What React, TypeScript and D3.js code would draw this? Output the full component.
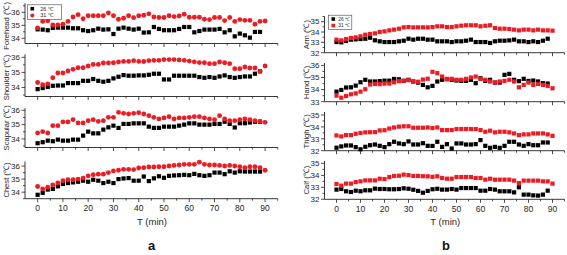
import React from "react";
import * as d3 from "d3";

// ---------- data ----------
const minutes = [0, 2, 4, 6, 8, 10, 12, 14, 16, 18, 20, 22, 24, 26, 28, 30, 32, 34, 36, 38, 40, 42, 44, 46, 48, 50, 52, 54, 56, 58, 60, 62, 64, 66, 68, 70, 72, 74, 76, 78, 80, 82, 84, 86, 88, 90];
const xTickValues = [0, 5, 10, 15, 20, 25, 30, 35, 40, 45, 50, 55, 60, 65, 70, 75, 80, 85, 90, 95];
const xLabelValues = [0, 10, 20, 30, 40, 50, 60, 70, 80, 90];
const legendLabels = ["26 ℃", "31 ℃"];
const xTitle = "T (min)";
const panelLetters = ["a", "b"];

const foreheadBlack = [34.69, 34.67, 34.62, 34.8, 34.82, 34.82, 34.82, 34.77, 34.77, 34.62, 34.56, 34.62, 34.74, 34.67, 34.69, 34.33, 34.74, 34.82, 34.74, 34.67, 34.74, 34.44, 34.46, 34.87, 34.72, 34.62, 34.62, 34.62, 34.72, 34.87, 34.87, 34.46, 34.56, 34.67, 34.67, 34.67, 34.72, 34.46, 34.62, 34.15, 34.36, 34.23, 34.05, 34.49, 34.49];
const foreheadRed = [34.8, 35.3, 35.35, 35.03, 35.03, 35.08, 35.3, 35.64, 35.82, 35.5, 35.74, 35.74, 35.74, 35.74, 35.95, 35.74, 35.46, 35.54, 35.74, 35.59, 35.74, 35.77, 35.88, 35.64, 35.6, 35.6, 35.74, 35.67, 35.72, 35.85, 35.62, 35.62, 35.62, 35.46, 35.44, 35.6, 35.6, 35.36, 35.6, 35.3, 35.44, 35.38, 35.38, 35.08, 35.3, 35.33];

const shoulderBlack = [33.89, 33.96, 34.04, 34.11, 34.13, 34.13, 34.29, 34.29, 34.29, 34.44, 34.44, 34.56, 34.44, 34.38, 34.44, 34.6, 34.71, 34.82, 34.78, 34.78, 34.8, 34.8, 34.84, 34.91, 34.91, 34.53, 34.53, 34.78, 34.78, 34.78, 34.78, 34.78, 34.69, 34.64, 34.69, 34.64, 34.73, 34.8, 34.69, 34.64, 34.69, 34.73, 34.73, 34.91, 35.07];
const shoulderRed = [34.33, 34.18, 34.24, 34.64, 34.96, 34.96, 35.09, 35.2, 35.31, 35.31, 35.42, 35.53, 35.53, 35.62, 35.62, 35.64, 35.69, 35.73, 35.73, 35.78, 35.73, 35.72, 35.78, 35.8, 35.8, 35.85, 35.85, 35.85, 35.83, 35.8, 35.75, 35.7, 35.65, 35.64, 35.58, 35.58, 35.69, 35.64, 35.58, 35.24, 35.24, 35.36, 35.29, 35.29, 35.07, 35.42];

const scapularBlack = [33.7, 33.77, 33.88, 33.84, 33.95, 33.88, 33.88, 33.95, 33.95, 34.23, 34.51, 34.39, 34.39, 34.65, 34.81, 34.93, 34.77, 35.05, 35.05, 35.09, 35.09, 35.09, 34.86, 34.77, 34.77, 34.86, 34.86, 34.86, 34.93, 35.0, 35.09, 35.09, 35.0, 35.0, 35.0, 35.05, 35.05, 35.2, 35.05, 34.8, 35.1, 35.1, 35.15, 35.2, 35.2];
const scapularRed = [34.42, 34.51, 34.42, 34.93, 34.93, 35.19, 35.19, 35.35, 35.12, 35.12, 35.28, 35.35, 35.23, 35.28, 35.51, 35.51, 35.86, 35.79, 35.74, 35.79, 35.84, 35.74, 35.63, 35.51, 35.4, 35.47, 35.56, 35.4, 35.47, 35.47, 35.51, 35.56, 35.56, 35.47, 35.4, 35.35, 35.63, 35.4, 35.28, 35.28, 35.35, 35.4, 35.35, 35.28, 35.23, 35.16];

const chestBlack = [33.8, 33.95, 34.2, 34.25, 34.45, 34.63, 34.7, 34.75, 34.8, 34.88, 34.8, 34.95, 34.88, 34.7, 34.8, 34.7, 35.0, 35.05, 35.08, 34.88, 34.88, 35.2, 34.85, 35.06, 35.22, 35.1, 35.25, 35.28, 35.3, 35.33, 35.3, 35.4, 35.3, 35.25, 35.3, 35.5, 35.5, 35.38, 35.6, 35.5, 35.6, 35.58, 35.58, 35.58, 35.58];
const chestRed = [34.43, 34.25, 34.38, 34.55, 34.7, 34.88, 34.95, 34.95, 35.0, 35.08, 35.25, 35.33, 35.38, 35.38, 35.5, 35.63, 35.68, 35.75, 35.75, 35.73, 35.85, 35.88, 35.93, 35.93, 35.95, 35.95, 36.0, 36.05, 36.08, 36.13, 36.13, 36.13, 36.3, 36.13, 36.08, 36.08, 36.05, 36.0, 36.05, 36.0, 35.95, 35.88, 35.95, 35.95, 35.88, 35.68];

const armBlack = [33.03, 33.0, 33.13, 33.26, 33.29, 33.32, 33.35, 33.45, 33.2, 33.1, 33.03, 33.03, 33.03, 33.1, 33.16, 33.35, 33.26, 33.35, 33.35, 33.26, 33.26, 33.1, 33.1, 33.1, 33.03, 33.1, 33.1, 33.16, 33.26, 33.03, 33.03, 33.03, 32.94, 33.1, 33.16, 33.16, 33.19, 33.26, 33.1, 33.1, 33.03, 33.1, 33.03, 33.16, 33.35];
const armRed = [33.26, 33.19, 33.32, 33.42, 33.48, 33.58, 33.74, 33.81, 33.87, 34.0, 34.06, 34.16, 34.23, 34.32, 34.45, 34.48, 34.45, 34.45, 34.45, 34.45, 34.48, 34.55, 34.55, 34.48, 34.48, 34.55, 34.61, 34.65, 34.65, 34.65, 34.55, 34.61, 34.65, 34.39, 34.32, 34.32, 34.29, 34.23, 34.16, 34.23, 34.23, 34.16, 34.23, 34.16, 34.16, 34.13];

const handBlack = [33.83, 33.97, 34.17, 34.19, 34.33, 34.61, 34.81, 34.67, 34.67, 34.7, 34.74, 34.74, 34.88, 34.85, 34.72, 34.81, 34.67, 34.58, 34.39, 34.19, 34.31, 34.67, 34.81, 34.86, 34.81, 34.75, 34.72, 34.72, 34.81, 34.53, 34.94, 34.72, 34.81, 34.58, 34.58, 35.22, 35.3, 34.81, 34.7, 34.89, 34.72, 34.75, 34.67, 34.53, 34.5];
const handRed = [33.5, 33.33, 33.47, 33.61, 33.69, 33.83, 34.03, 34.42, 34.47, 34.45, 34.5, 34.5, 34.6, 34.7, 34.73, 34.78, 34.67, 34.65, 34.83, 34.9, 35.47, 35.36, 35.08, 34.89, 34.89, 34.81, 34.81, 34.89, 35.0, 35.08, 34.89, 34.81, 34.67, 34.58, 34.67, 34.72, 34.81, 34.67, 34.19, 34.39, 34.58, 34.39, 34.47, 34.39, 34.31, 34.11];

const thighBlack = [32.25, 32.36, 32.44, 32.44, 32.3, 32.12, 32.33, 32.46, 32.52, 32.41, 32.3, 32.55, 32.75, 32.61, 32.55, 32.78, 32.52, 32.52, 32.63, 32.41, 32.4, 32.75, 32.32, 32.55, 32.18, 32.61, 32.61, 32.52, 32.52, 32.55, 32.89, 32.41, 32.24, 32.32, 32.24, 32.41, 32.75, 32.75, 32.52, 32.41, 32.55, 32.46, 32.46, 32.69, 32.69];
const thighRed = [33.28, 33.2, 33.31, 33.31, 33.42, 33.49, 33.54, 33.55, 33.56, 33.7, 33.72, 33.86, 33.95, 34.02, 34.05, 34.05, 33.93, 33.93, 33.93, 33.95, 33.9, 33.95, 33.73, 33.73, 33.73, 33.82, 33.82, 33.82, 33.82, 33.82, 33.73, 33.59, 33.68, 33.54, 33.59, 33.59, 33.54, 33.45, 33.31, 33.37, 33.37, 33.45, 33.45, 33.45, 33.37, 33.25];

const calfBlack = [32.81, 32.86, 32.67, 32.61, 32.72, 32.67, 32.75, 32.75, 32.89, 32.86, 32.86, 32.84, 32.84, 32.86, 32.92, 32.88, 32.8, 32.7, 32.55, 32.7, 32.84, 32.88, 32.81, 32.81, 32.86, 32.81, 32.94, 32.94, 32.94, 32.94, 32.72, 32.72, 32.86, 32.81, 32.67, 32.67, 32.67, 32.58, 33.0, 32.39, 32.39, 32.33, 32.31, 32.39, 32.72];
const calfRed = [33.28, 33.14, 33.31, 33.31, 33.44, 33.5, 33.58, 33.58, 33.58, 33.72, 33.69, 33.86, 33.95, 33.97, 34.06, 34.02, 33.95, 33.95, 33.93, 33.92, 33.88, 33.92, 33.78, 33.72, 33.72, 33.86, 33.86, 33.86, 33.86, 33.78, 33.78, 33.64, 33.72, 33.64, 33.64, 33.64, 33.64, 33.56, 33.36, 33.56, 33.56, 33.56, 33.56, 33.5, 33.5, 33.31];

// ---------- layout ----------
const W = 567;
const H = 255;
const RED = "#ec1c24";
const BLACK = "#000000";
const AXIS = "#222222";
const TEXT = "#262626";
const FONT = "'Liberation Sans', Arial, Helvetica, sans-serif";

type Sub = {
  label: string;
  black: number[];
  red: number[];
  domain: [number, number];
  top: number;
  bottom: number;
  labelShift?: number;
};

const panelA: Sub[] = [
  { label: "Forehead (℃)", black: foreheadBlack, red: foreheadRed, domain: [33.6, 36.7], top: 3.2, bottom: 43.5, labelShift: 2.5 },
  { label: "Shoulder (℃)", black: shoulderBlack, red: shoulderRed, domain: [33.4, 36.2], top: 54.3, bottom: 96.5, labelShift: 2 },
  { label: "Scapular (℃)", black: scapularBlack, red: scapularRed, domain: [33.4, 36.15], top: 108.2, bottom: 147.5 },
  { label: "Chest (℃)", black: chestBlack, red: chestRed, domain: [33.5, 36.35], top: 161.5, bottom: 198.7 },
];

const panelB: Sub[] = [
  { label: "Arm (℃)", black: armBlack, red: armRed, domain: [32, 35.5], top: 16.5, bottom: 52.7 },
  { label: "Hand (℃)", black: handBlack, red: handRed, domain: [33, 36.2], top: 63, bottom: 101.7 },
  { label: "Thigh (℃)", black: thighBlack, red: thighRed, domain: [32, 35.25], top: 112, bottom: 150.7 },
  { label: "Calf (℃)", black: calfBlack, red: calfRed, domain: [32, 35.2], top: 161, bottom: 199.3 },
];

type PanelProps = {
  subs: Sub[];
  x0: number;
  x1: number;
  redCircle: boolean;
  legend: { x: number; y: number; w: number; h: number; fs: number };
  letter: string;
  letterX: number;
  titleX: number;
};

function Panel({ subs, x0, x1, redCircle, legend, letter, letterX, titleX }: PanelProps) {
  const x = d3.scaleLinear().domain([-5, 95]).range([x0, x1]);
  const sq = 4.2;
  return (
    <g>
      {subs.map((s, i) => {
        const y = d3.scaleLinear().domain(s.domain).range([s.bottom, s.top]);
        const lo = Math.ceil(s.domain[0] * 2) / 2;
        const yTicks: number[] = [];
        for (let v = lo; v <= s.domain[1] + 1e-9; v += 0.5) yTicks.push(+v.toFixed(1));
        const isLast = i === subs.length - 1;
        const cy = (s.top + s.bottom) / 2 + (s.labelShift || 0);
        return (
          <g key={i}>
            <line x1={x0} x2={x0} y1={s.top} y2={s.bottom} stroke={AXIS} strokeWidth={0.9} />
            {yTicks.map((v) => {
              const major = Math.abs(v - Math.round(v)) < 1e-6;
              return (
                <g key={v}>
                  <line x1={x0 - (major ? 3.5 : 2)} x2={x0} y1={y(v)} y2={y(v)} stroke={AXIS} strokeWidth={0.8} />
                  {major && (
                    <text x={x0 - 5} y={y(v)} dy="0.35em" textAnchor="end" fontSize={8} fontFamily={FONT} fill={TEXT}>
                      {v}
                    </text>
                  )}
                </g>
              );
            })}
            <line x1={x0} x2={x1} y1={s.bottom} y2={s.bottom} stroke={AXIS} strokeWidth={0.9} />
            {xTickValues.map((t) => {
              const major = t % 10 === 0;
              return (
                <line key={t} x1={x(t)} x2={x(t)} y1={s.bottom} y2={s.bottom + (major ? 3.5 : 2)} stroke={AXIS} strokeWidth={0.8} />
              );
            })}
            {isLast &&
              xLabelValues.map((t) => (
                <text key={t} x={x(t)} y={s.bottom + 12.3} textAnchor="middle" fontSize={8.5} fontFamily={FONT} fill={TEXT}>
                  {t}
                </text>
              ))}
            <text
              transform={`translate(${x0 - 16},${cy}) rotate(-90)`}
              textAnchor="middle"
              fontSize={7.6}
              fontFamily={FONT}
              fill={TEXT}
            >
              {s.label}
            </text>
            {s.black.map((v, k) => (
              <rect key={"b" + k} x={x(minutes[k]) - sq / 2} y={y(v) - sq / 2} width={sq} height={sq} fill={BLACK} />
            ))}
            {s.red.map((v, k) =>
              redCircle ? (
                <circle key={"r" + k} cx={x(minutes[k])} cy={y(v)} r={2.45} fill={RED} />
              ) : (
                <rect key={"r" + k} x={x(minutes[k]) - sq / 2} y={y(v) - sq / 2} width={sq} height={sq} fill={RED} />
              )
            )}
          </g>
        );
      })}
      <g>
        <rect x={legend.x} y={legend.y} width={legend.w} height={legend.h} fill="white" stroke="#444" strokeWidth={0.6} />
        <rect x={legend.x + 5 - 1.8} y={legend.y + legend.h * 0.27 - 1.8} width={3.6} height={3.6} fill={BLACK} />
        <text x={legend.x + (redCircle ? 13 : 10)} y={legend.y + legend.h * 0.27} dy="0.35em" fontSize={legend.fs} fontFamily={FONT} fill={TEXT}>
          {legendLabels[0]}
        </text>
        {redCircle ? (
          <circle cx={legend.x + 5} cy={legend.y + legend.h * 0.73} r={2} fill={RED} />
        ) : (
          <rect x={legend.x + 5 - 1.8} y={legend.y + legend.h * 0.73 - 1.8} width={3.6} height={3.6} fill={RED} />
        )}
        <text x={legend.x + (redCircle ? 13 : 10)} y={legend.y + legend.h * 0.73} dy="0.35em" fontSize={legend.fs} fontFamily={FONT} fill={TEXT}>
          {legendLabels[1]}
        </text>
      </g>
      <text x={titleX} y={225} textAnchor="middle" fontSize={9.5} fontFamily={FONT} fill={TEXT}>
        {xTitle}
      </text>
      <text x={letterX} y={250} textAnchor="middle" fontSize={13} fontWeight="bold" fontFamily={FONT} fill="#111">
        {letter}
      </text>
    </g>
  );
}

export default function App() {
  return (
    <div style={{ position: "fixed", left: 0, top: 0, width: W, height: H, background: "white" }}>
      <svg width={W} height={H} viewBox={`0 0 ${W} ${H}`} style={{ display: "block" }}>
        <rect width={W} height={H} fill="white" />
        <Panel
          subs={panelA}
          x0={25}
          x1={277.7}
          redCircle={true}
          legend={{ x: 27.3, y: 4.8, w: 34.4, h: 14.5, fs: 5.5 }}
          letter={panelLetters[0]}
          letterX={151.7}
          titleX={152}
        />
        <Panel
          subs={panelB}
          x0={324.5}
          x1={564.5}
          redCircle={false}
          legend={{ x: 328.3, y: 15.2, w: 23.5, h: 14.2, fs: 4.8 }}
          letter={panelLetters[1]}
          letterX={446}
          titleX={445.3}
        />
      </svg>
    </div>
  );
}
